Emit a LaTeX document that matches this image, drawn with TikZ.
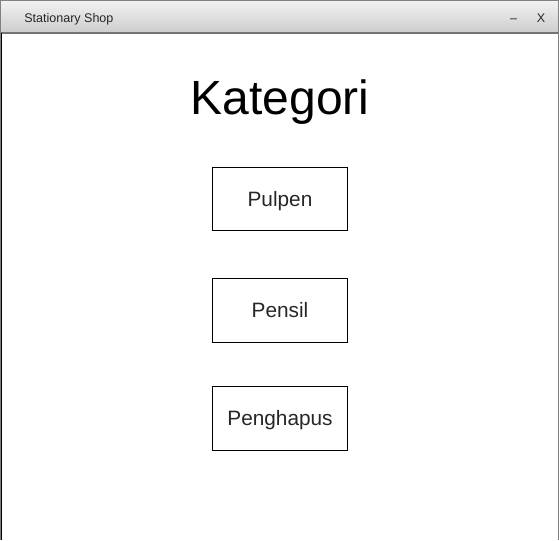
\documentclass[tikz,border=0pt]{standalone}
\usepackage{fontspec}
\setmainfont{Liberation Sans}
\usepackage{tikz}

\tikzset{
    knop/.style={draw=black, line width=1pt, minimum width=101.25pt, minimum height=47.6pt,
        inner sep=0pt, text height=11pt, text depth=0pt, font=\fontsize{15.6pt}{15.6pt}\selectfont, text=black!85},
    titel/.style={font=\fontsize{9.4pt}{9.4pt}\selectfont, text=black!85, inner sep=0pt}
}

\begin{document}
\begin{tikzpicture}[x=0.75pt, y=-0.75pt]

\useasboundingbox (0,0) rectangle (559,540);

\coordinate (tl) at (0.5,0.5);
\coordinate (tr) at (558.5,0.5);
\coordinate (bl) at (0.5,33);
\coordinate (br) at (558.5,33);

\shade [top color=black!5, bottom color=black!20] (tl) rectangle (br);
\draw [black!50, line width=0.7pt] (0.5,540) -- (tl) -- (tr) -- (558.5,540);
\draw [black!55, line width=1.1pt] (bl) -- (br);
\draw [black, line width=1.1pt] (1.6,33) -- (1.6,540);

\node [titel, anchor=base west] (title) at (24,22.3) {Stationary Shop};
\node [titel, anchor=base] (min) at (513.7,22.3) {–};
\node [titel, anchor=base] (close) at (541,22.3) {X};

\node [anchor=base, inner sep=0pt, font=\fontsize{36pt}{36pt}\selectfont, text=black] (kategori) at (280,114.5) {Kategori};

\foreach \name/\y/\label in {pulpen/199/Pulpen, pensil/310.5/Pensil, penghapus/418.5/Penghapus}
    \node [knop] (\name) at (280,\y) {\label};

\end{tikzpicture}
\end{document}
